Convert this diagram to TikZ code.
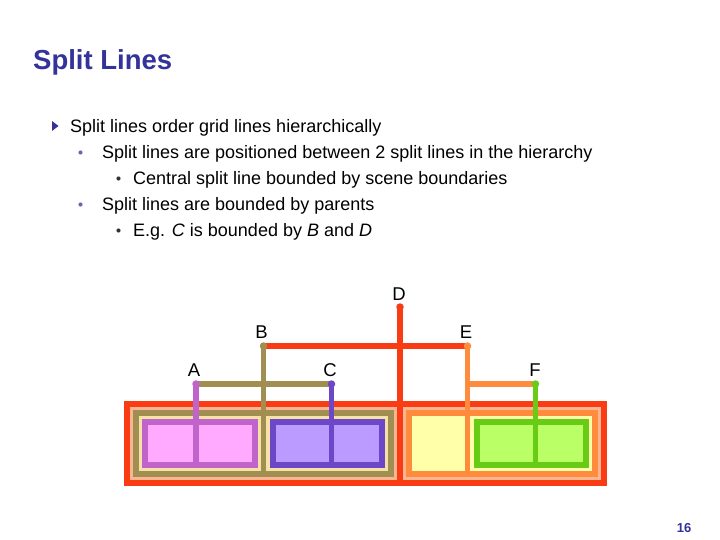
\documentclass[tikz,border=0pt]{standalone}
\usepackage{fontspec}
\setmainfont{Liberation Sans}
\usetikzlibrary{positioning}
\definecolor{slideNavy}{HTML}{333399}
\definecolor{splitRed}{HTML}{FA3C14}
\definecolor{splitPeach}{HTML}{FBB592}
\definecolor{splitOlive}{HTML}{A18F52}
\definecolor{splitCream}{HTML}{F6E2A6}
\definecolor{splitMag}{HTML}{C064CC}
\definecolor{splitPink}{HTML}{FFAAFF}
\definecolor{splitPur}{HTML}{6C48C9}
\definecolor{splitLav}{HTML}{BB9BFF}
\definecolor{splitOrange}{HTML}{FF8C3C}
\definecolor{splitYellow}{HTML}{FFFFAA}
\definecolor{splitGreen}{HTML}{68CC16}
\definecolor{splitLime}{HTML}{BBFF66}
\begin{document}
\begin{tikzpicture}[x=1pt, y=-1pt,
  region/.style args={#1/#2}{draw=#1, fill=#2, line width=6pt, inner sep=0pt},
  splitline/.style={draw=#1, line width=5.5pt},
  joinline/.style={draw=#1, line width=6pt},
  dot/.style={circle, fill=#1, inner sep=0pt, minimum size=7.5pt},
  letter/.style={font=\fontsize{18.5}{20}\selectfont, anchor=base, inner sep=0pt},
  titletext/.style={font=\fontsize{27.5}{30}\selectfont\bfseries, text=slideNavy,
                    anchor=base west, inner sep=0pt},
  bodytext/.style={font=\fontsize{18}{21}\selectfont, anchor=base west, inner sep=0pt}
]
\useasboundingbox[fill=white] (0,0) rectangle (720,540);

% title and bullets
\node[titletext] (title) at (33,70) {Split Lines};
\fill[slideNavy] (52,121) -- (58.5,126) -- (52,131) -- cycle;
\node[bodytext] (l1) at (70,132.5) {Split lines order grid lines hierarchically};
\fill[slideNavy!75!white] (80.5,152.5) circle (2.1);
\node[bodytext] (l2) at (102,158.5) {Split lines are positioned between 2 split lines in the hierarchy};
\fill[black!80] (118.5,178.5) circle (2.1);
\node[bodytext] (l3) at (133,184.5) {Central split line bounded by scene boundaries};
\fill[slideNavy!75!white] (80.5,204.5) circle (2.1);
\node[bodytext] (l4) at (102,210.5) {Split lines are bounded by parents};
\fill[black!80] (118.5,230.5) circle (2.1);
\node[bodytext] (l5) at (133,236.5) {E.g. \textit{C} is bounded by \textit{B} and \textit{D}};

% scene regions
\node[region=splitRed/splitPeach, minimum width=477pt, minimum height=79pt] (scene) at (365.5,443.5) {};
\node[region=splitOlive/splitCream, minimum width=255pt, minimum height=61pt] (regB) at (263.5,443.5) {};
\node[region=splitOrange/splitYellow, minimum width=186pt, minimum height=61pt] (regE) at (502,443.5) {};
\node[region=splitMag/splitPink, minimum width=109.5pt, minimum height=43pt] (regA) at (199.75,443.5) {};
\node[region=splitPur/splitLav, minimum width=109.5pt, minimum height=43pt] (regC) at (327.25,443.5) {};
\node[region=splitGreen/splitLime, minimum width=109.5pt, minimum height=43pt] (regF) at (531.25,443.5) {};

% split points
\coordinate (A) at (196,384);
\coordinate (C) at (331.5,384);
\coordinate (B) at (263.5,346);
\coordinate (E) at (467.5,346);
\coordinate (D) at (400,307);
\coordinate (F) at (535.5,384);

% hierarchy links
\draw[joinline=splitOlive] (A) -- (C);
\draw[joinline=splitRed] (B) -- (E);
\draw[joinline=splitOrange] (E |- F) -- (F);

% split lines
\draw[splitline=splitMag] (A) -- (A |- regA.south);
\draw[splitline=splitPur] (C) -- (C |- regC.south);
\draw[splitline=splitOlive] (B) -- (B |- regB.south);
\draw[splitline=splitRed] (D) -- (D |- scene.south);
\draw[splitline=splitOrange] (E) -- (E |- regE.south);
\draw[splitline=splitGreen] (F) -- (F |- regF.south);

\node[dot=splitMag] (dA) at (A) {};
\node[dot=splitPur] (dC) at (C) {};
\node[dot=splitOlive] (dB) at (B) {};
\node[dot=splitRed] (dD) at (D) {};
\node[dot=splitOrange] (dE) at (E) {};
\node[dot=splitGreen] (dF) at (F) {};

% labels
\node[letter] (labA) at (194,376.5) {A};
\node[letter] (labB) at (261.5,338.5) {B};
\node[letter] (labC) at (330,376.5) {C};
\node[letter] (labD) at (399,300.5) {D};
\node[letter] (labE) at (466,338.5) {E};
\node[letter] (labF) at (535,376.5) {F};

% page number
\node[font=\fontsize{13}{15}\selectfont\bfseries, text=slideNavy, anchor=base, inner sep=0pt] (page) at (684,532.5) {16};
\end{tikzpicture}
\end{document}
